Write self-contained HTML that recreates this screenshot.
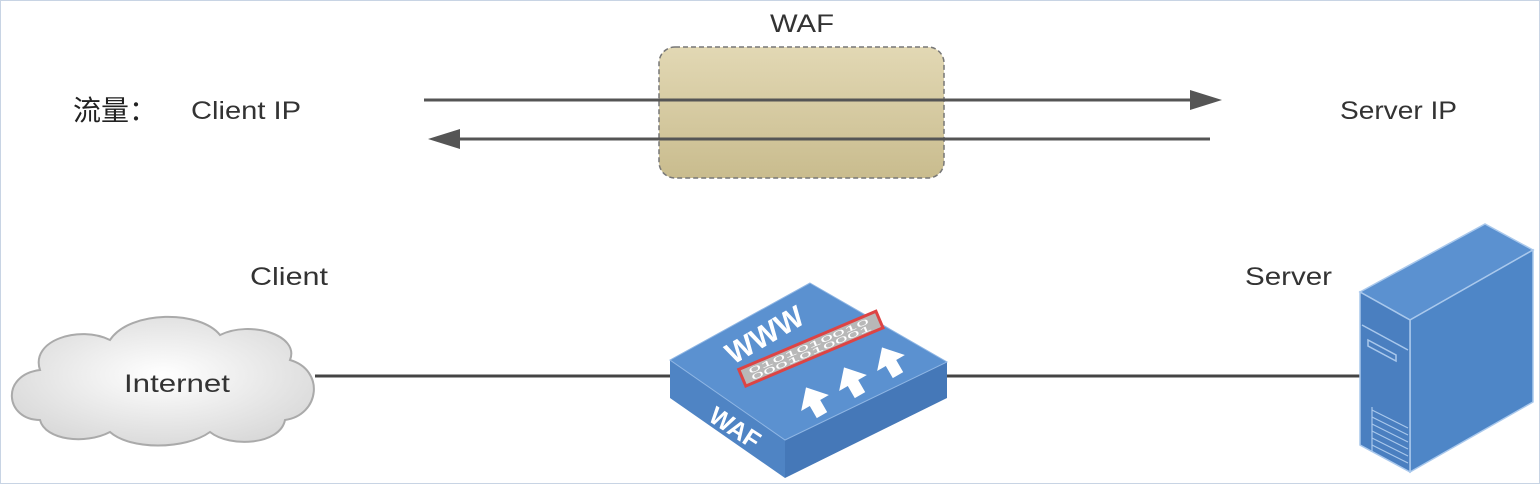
<!DOCTYPE html>
<html><head><meta charset="utf-8"><style>
body{margin:0;background:#fff;}
svg{display:block;}
text{font-family:"Liberation Sans","Noto Sans CJK SC",sans-serif;}
</style></head><body>
<svg width="1540" height="484" viewBox="0 0 1540 484">
<defs>
<radialGradient id="cg" cx="50%" cy="45%" r="60%"><stop offset="0" stop-color="#ffffff"/><stop offset="1" stop-color="#d8d8d8"/></radialGradient>
<linearGradient id="wg" x1="0" y1="0" x2="0" y2="1"><stop offset="0" stop-color="#e2d8b4"/><stop offset="1" stop-color="#c9bc8e"/></linearGradient>
</defs>
<rect x="0.5" y="0.5" width="1539" height="483" fill="#fff" stroke="#c8d4e4"/>
<text x="770" y="32" font-size="25" textLength="64" lengthAdjust="spacingAndGlyphs" fill="#333">WAF</text>
<rect x="659" y="47" width="285" height="131" rx="16" fill="url(#wg)" stroke="#777" stroke-width="1.5" stroke-dasharray="5,3"/>
<line x1="424" y1="100" x2="1195" y2="100" stroke="#555" stroke-width="3"/>
<polygon points="1222,100 1190,90 1190,110" fill="#555"/>
<line x1="455" y1="139" x2="1210" y2="139" stroke="#555" stroke-width="3"/>
<polygon points="428,139 460,129 460,149" fill="#555"/>
<text x="73" y="120" font-size="28" fill="#222" font-family="'Noto Serif CJK SC',serif">流量：</text>
<text x="191" y="119" font-size="25" textLength="110" lengthAdjust="spacingAndGlyphs" fill="#333">Client IP</text>
<text x="1340" y="119" font-size="25" textLength="117" lengthAdjust="spacingAndGlyphs" fill="#333">Server IP</text>
<text x="250" y="285" font-size="25" textLength="78" lengthAdjust="spacingAndGlyphs" fill="#333">Client</text>
<text x="1245" y="285" font-size="25" textLength="87" lengthAdjust="spacingAndGlyphs" fill="#333">Server</text>
<line x1="315" y1="376" x2="672" y2="376" stroke="#444" stroke-width="3"/>
<line x1="945" y1="376" x2="1362" y2="376" stroke="#444" stroke-width="3"/>
<path d="M40,420 C5,420 0,375 40,370 C30,340 80,325 110,340 C130,310 200,310 220,335 C250,320 300,335 290,360 C325,370 320,415 285,420 C280,445 230,448 210,432 C185,450 130,450 110,432 C85,445 45,440 40,420 Z" fill="url(#cg)" stroke="#aaa" stroke-width="2"/>
<text x="124" y="392" font-size="25" textLength="106" lengthAdjust="spacingAndGlyphs" fill="#333">Internet</text>
<polygon points="670,360 785,440 785,478 670,398" fill="#4f84c4"/>
<polygon points="785,440 947,362 947,398 785,478" fill="#4578b8"/>
<polygon points="810,283 947,362 785,440 670,360" fill="#5b91d0" stroke="#8fb6e4" stroke-width="1"/>
<g transform="translate(745,388) rotate(-23)">
<rect x="0" y="-21" width="152" height="21" fill="#d44"/>
<rect x="3" y="-18" width="146" height="15" fill="#b8b8b8"/>
<text x="10" y="-11" font-size="8" fill="#fff" textLength="130" lengthAdjust="spacingAndGlyphs">0101010010</text>
<text x="10" y="-4" font-size="8" fill="#fff" textLength="130" lengthAdjust="spacingAndGlyphs">0001010001</text>
</g>
<text x="0" y="0" font-size="30" font-weight="bold" fill="#fff" transform="translate(733,365) rotate(-30)">WWW</text>
<g fill="#fff">
<g transform="translate(815,403) rotate(-30)"><polygon points="0,-18 16,0 6,0 6,14 -6,14 -6,0 -16,0"/></g>
<g transform="translate(853,383) rotate(-30)"><polygon points="0,-18 16,0 6,0 6,14 -6,14 -6,0 -16,0"/></g>
<g transform="translate(891,363) rotate(-30)"><polygon points="0,-18 16,0 6,0 6,14 -6,14 -6,0 -16,0"/></g>
</g>
<text x="0" y="0" font-size="25" font-weight="bold" fill="#fff" transform="translate(707,420) rotate(33)">WAF</text>
<polygon points="1360,292 1485,224 1533,250 1410,320" fill="#5b91d0" stroke="#a9c8ec" stroke-width="1.5"/>
<polygon points="1410,320 1533,250 1533,402 1410,472" fill="#4e86c7" stroke="#a9c8ec" stroke-width="1.5"/>
<polygon points="1360,292 1410,320 1410,472 1360,445" fill="#4a7fc0" stroke="#a9c8ec" stroke-width="1.5"/>
<line x1="1362" y1="325" x2="1408" y2="350" stroke="#a9c8ec" stroke-width="1.5"/>
<polygon points="1368,340 1396,355 1396,361 1368,346" fill="none" stroke="#a9c8ec" stroke-width="1.5"/>
<g stroke="#a9c8ec" stroke-width="1.2">
<line x1="1372" y1="410" x2="1408" y2="428"/><line x1="1372" y1="417" x2="1408" y2="435"/>
<line x1="1372" y1="424" x2="1408" y2="442"/><line x1="1372" y1="431" x2="1408" y2="449"/>
<line x1="1372" y1="438" x2="1408" y2="456"/><line x1="1372" y1="445" x2="1408" y2="463"/>
<line x1="1372" y1="407" x2="1372" y2="452"/>
</g>
</svg>
</body></html>
